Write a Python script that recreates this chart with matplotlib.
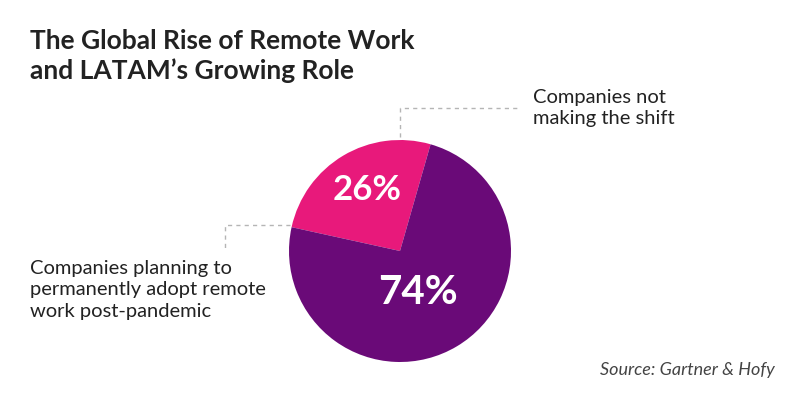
import matplotlib
matplotlib.use("Agg")
import matplotlib.pyplot as plt

labels = ["Companies not\nmaking the shift",
          "Companies planning to\npermanently adopt remote\nwork post-pandemic"]
values = [26, 74]
colors = ["#E8197B", "#6A0A78"]
title = "The Global Rise of Remote Work\nand LATAM\u2019s Growing Role"
source = "Source: Gartner & Hofy"

plt.rcParams["font.family"] = ["Lato", "DejaVu Sans"]

fig = plt.figure(figsize=(8, 4), dpi=100)
ax = fig.add_axes([0, 0, 1, 1])

cx, cy, r = 400, 149, 111
ax.pie(values, colors=colors, startangle=74, counterclock=True,
       center=(cx, cy), radius=r, frame=True, wedgeprops={"linewidth": 0})
ax.set_xlim(0, 800)
ax.set_ylim(0, 400)
ax.set_aspect("equal")
ax.axis("off")

ax.text(367, 210, f"{values[0]}%", color="white", fontsize=25, fontweight="bold",
        ha="center", va="center")
ax.text(418, 108, f"{values[1]}%", color="white", fontsize=29, fontweight="bold",
        ha="center", va="center")

dash = dict(color="#b5b5b5", lw=1, ls=(0, (3, 3)))
ax.plot([400, 400, 520], [263, 292, 292], **dash)
ax.plot([290, 225, 225], [175, 175, 150], **dash)

ax.text(533, 292, labels[0], fontsize=14.5, color="#222222", va="center",
        linespacing=1.3)
ax.text(30, 110, labels[1], fontsize=14.5, color="#222222", va="center",
        linespacing=1.3)

ax.text(30, 344, title, fontsize=19, fontweight="bold", color="#222222",
        va="center", linespacing=1.25)
ax.text(775, 30, source, fontsize=13, style="italic", color="#444444",
        ha="right", va="center")

fig.savefig("out.png", dpi=100, facecolor="white")
